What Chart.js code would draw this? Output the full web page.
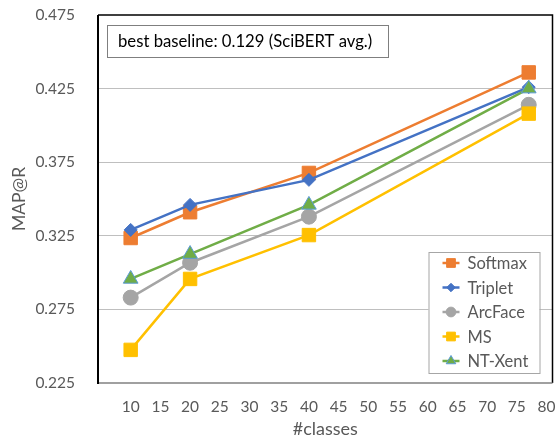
<!DOCTYPE html>
<html>
<head>
<meta charset="utf-8">
<script src="https://cdn.jsdelivr.net/npm/chart.js@4"></script>
<style>
  html, body { margin: 0; padding: 0; background: #fff; overflow: hidden; }
  #wrap { width: 557px; height: 443px; overflow: hidden; }
</style>
</head>
<body>
<!-- canvas is a few px wider than the window: Chart.js keeps ~10px spare on the right -->
<div id="wrap"><canvas id="myChart" width="563" height="443"></canvas></div>
<script>
// data
const xClasses = [10, 20, 40, 77];
const softmax = [0.3235, 0.341, 0.3677, 0.436];
const triplet = [0.329, 0.346, 0.363, 0.426];
const arcface = [0.283, 0.3067, 0.338, 0.414];
const ms = [0.2475, 0.2957, 0.3255, 0.408];
const ntXent = [0.2957, 0.3126, 0.346, 0.425];

const seriesNames = ['Softmax', 'Triplet', 'ArcFace', 'MS', 'NT-Xent'];
const xTicks = [10, 15, 20, 25, 30, 35, 40, 45, 50, 55, 60, 65, 70, 75, 80];
const yTicks = [0.225, 0.275, 0.325, 0.375, 0.425, 0.475];
const baselineNote = 'best baseline: 0.129 (SciBERT avg.)';

const FONT = 'Lato';
const GREY_TEXT = '#595959';

const styles = [
  { color: '#ED7D31', point: 'rect', radius: 9.5, border: '#ED7D31' },
  { color: '#4472C4', point: 'rectRot', radius: 6.5, border: '#4472C4' },
  { color: '#A5A5A5', point: 'circle', radius: 7.5, border: '#A5A5A5' },
  { color: '#FFC000', point: 'rect', radius: 9.5, border: '#FFC000' },
  { color: '#70AD47', point: 'triangle', radius: 8.5, border: '#5B9BD5' },
];

function toPoints(arr) {
  return arr.map((v, i) => ({ x: xClasses[i], y: v }));
}

const allSeries = [softmax, triplet, arcface, ms, ntXent];

const datasets = allSeries.map((arr, i) => ({
  label: seriesNames[i],
  data: toPoints(arr),
  borderColor: styles[i].color,
  backgroundColor: styles[i].color,
  borderWidth: 2.5,
  pointStyle: styles[i].point,
  pointRadius: styles[i].radius,
  pointHoverRadius: styles[i].radius,
  pointBackgroundColor: styles[i].color,
  pointBorderColor: styles[i].border,
  pointBorderWidth: 1,
  tension: 0,
  fill: false,
  order: allSeries.length - i, // later series drawn on top
}));

// frame, note box and legend drawn over the plot
const decorations = {
  id: 'decorations',
  afterDraw(chart) {
    const ctx = chart.ctx;
    const a = chart.chartArea;
    ctx.save();

    // plot frame
    ctx.strokeStyle = '#000';
    ctx.lineWidth = 1.5;
    ctx.beginPath();
    ctx.moveTo(a.left, a.top);
    ctx.lineTo(a.right, a.top);
    ctx.lineTo(a.right, a.bottom);
    ctx.stroke();
    ctx.strokeStyle = '#808080';
    ctx.beginPath();
    ctx.moveTo(a.left, a.bottom);
    ctx.lineTo(a.right, a.bottom);
    ctx.stroke();
    ctx.strokeStyle = '#000';
    ctx.lineWidth = 2;
    ctx.beginPath();
    ctx.moveTo(a.left, a.top);
    ctx.lineTo(a.left, a.bottom + 1);
    ctx.stroke();

    // note box
    const nx = a.left + 9, ny = a.top + 10, nw = 281, nh = 32;
    ctx.fillStyle = '#fff';
    ctx.fillRect(nx, ny, nw, nh);
    ctx.strokeStyle = '#7f7f7f';
    ctx.lineWidth = 1;
    ctx.strokeRect(nx + 0.5, ny + 0.5, nw, nh);
    ctx.fillStyle = '#000';
    ctx.font = '16.7px ' + FONT;
    ctx.textBaseline = 'middle';
    ctx.textAlign = 'left';
    ctx.fillText(baselineNote, nx + 11, ny + nh / 2 + 1);

    // legend
    const lw = 111, lh = 121;
    const lx = a.right - 13 - lw, ly = a.bottom - 10 - lh;
    ctx.fillStyle = '#fff';
    ctx.fillRect(lx, ly, lw, lh);
    ctx.strokeStyle = '#a6a6a6';
    ctx.strokeRect(lx + 0.5, ly + 0.5, lw, lh);
    ctx.font = '16.5px ' + FONT;
    ctx.textBaseline = 'middle';
    seriesNames.forEach((name, i) => {
      const cy = ly + 11 + i * 24.5;
      const x0 = lx + 14, x1 = lx + 31;
      ctx.strokeStyle = styles[i].color;
      ctx.lineWidth = 2.5;
      ctx.beginPath();
      ctx.moveTo(x0, cy);
      ctx.lineTo(x1, cy);
      ctx.stroke();
      ctx.fillStyle = styles[i].color;
      ctx.strokeStyle = styles[i].border;
      ctx.lineWidth = 1;
      Chart.helpers.drawPoint(ctx, {
        pointStyle: styles[i].point,
        radius: styles[i].radius * 0.65,
        rotation: 0,
        borderWidth: 1,
      }, (x0 + x1) / 2, cy);
      ctx.fillStyle = GREY_TEXT;
      ctx.fillText(name, x1 + 8, cy + 1);
    });

    ctx.restore();
  }
};

const ctx = document.getElementById('myChart');

let chart = new Chart(ctx, {
  type: 'line',
  data: { datasets: datasets },
  options: {
    responsive: false,
    animation: false,
    events: [],
    layout: { padding: 0 },
    plugins: {
      legend: { display: false },
      tooltip: { enabled: false },
    },
    scales: {
      x: {
        type: 'linear',
        min: 4.5,
        max: 81,
        afterBuildTicks: (scale) => { scale.ticks = xTicks.map(v => ({ value: v })); },
        afterFit: (scale) => {
          scale.height = 60;
          scale.paddingLeft = 0;
          scale.paddingRight = 0;
        },
        grid: { display: false, drawTicks: false },
        border: { display: false },
        ticks: {
          padding: 15,
          color: GREY_TEXT,
          font: { family: FONT, size: 15.5 },
          autoSkip: false,
          maxRotation: 0,
        },
        title: {
          display: true,
          text: '#classes',
          color: GREY_TEXT,
          font: { family: FONT, size: 18 },
          padding: { top: 0, bottom: 3 },
        }
      },
      y: {
        type: 'linear',
        min: 0.225,
        max: 0.475,
        afterBuildTicks: (scale) => { scale.ticks = yTicks.map(v => ({ value: v })); },
        afterFit: (scale) => {
          scale.width = 98;
          scale.paddingTop = 15;
          scale.paddingBottom = 0;
        },
        grid: {
          drawTicks: false,
          lineWidth: 1,
          color: (c) => (c.tick && (c.tick.value === yTicks[0] || c.tick.value === yTicks[yTicks.length - 1])) ? 'rgba(0,0,0,0)' : '#BFBFBF',
        },
        border: { display: false },
        ticks: {
          padding: 23,
          color: GREY_TEXT,
          font: { family: FONT, size: 15.5 },
          callback: (v) => Number(v).toFixed(3),
        },
        title: {
          display: true,
          text: 'MAP@R',
          color: GREY_TEXT,
          font: { family: FONT, size: 17.5 },
          padding: { top: 9, bottom: 0 },
        }
      }
    }
  },
  plugins: [decorations]
});
</script>
</body>
</html>
